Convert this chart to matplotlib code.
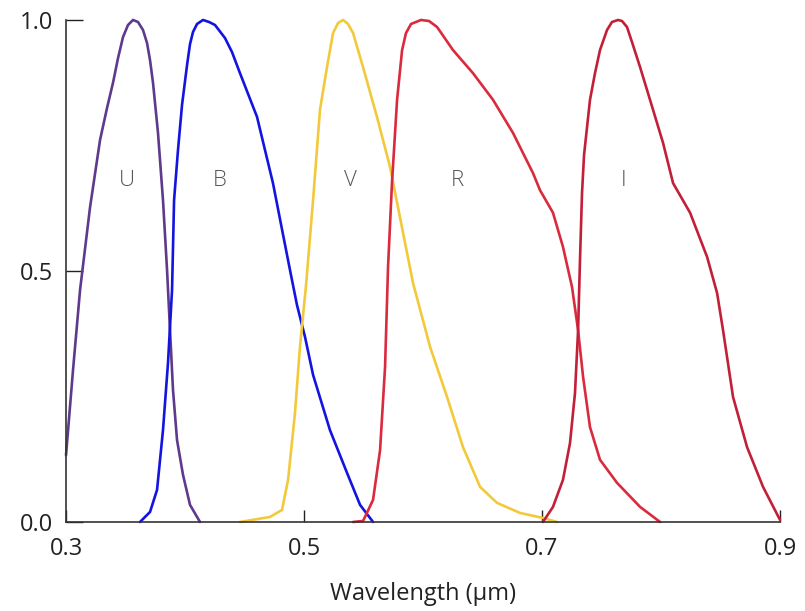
import matplotlib.pyplot as plt

# filter response curves (wavelength in micrometres, normalised response)
u_wl = [0.300, 0.3059, 0.3118, 0.3202, 0.3286, 0.3345, 0.3395, 0.3437, 0.3479, 0.3521,
        0.3563, 0.3605, 0.3647, 0.3681, 0.3706, 0.3731, 0.3773, 0.3815, 0.3849, 0.3874,
        0.3899, 0.3933, 0.3983, 0.4042, 0.4126]
u_resp = [0.133, 0.303, 0.462, 0.627, 0.761, 0.825, 0.875, 0.924, 0.966, 0.990,
          1.0, 0.996, 0.980, 0.954, 0.920, 0.875, 0.775, 0.641, 0.502, 0.382,
          0.263, 0.163, 0.094, 0.034, 0.0]

b_wl = [0.3622, 0.3706, 0.3765, 0.3815, 0.3857, 0.3891, 0.3908, 0.3941, 0.3975, 0.4017,
        0.4042, 0.4067, 0.4101, 0.4151, 0.4202, 0.4252, 0.4336, 0.4395, 0.4462, 0.4605,
        0.4739, 0.4824, 0.4882, 0.4941, 0.5008, 0.5076, 0.5218, 0.5361, 0.5471, 0.5580]
b_resp = [0.0, 0.020, 0.064, 0.183, 0.317, 0.462, 0.641, 0.741, 0.831, 0.910,
          0.952, 0.976, 0.992, 1.0, 0.996, 0.990, 0.964, 0.936, 0.894, 0.807,
          0.675, 0.572, 0.502, 0.432, 0.369, 0.293, 0.183, 0.098, 0.034, 0.0]

v_wl = [0.4462, 0.4714, 0.4815, 0.4866, 0.4924, 0.4966, 0.5017, 0.5076, 0.5134, 0.5193,
        0.5244, 0.5286, 0.5328, 0.5370, 0.5412, 0.5496, 0.5613, 0.5723, 0.5832, 0.5916,
        0.6059, 0.6202, 0.6336, 0.6479, 0.6622, 0.6815, 0.7008, 0.7126]
v_resp = [0.0, 0.010, 0.024, 0.084, 0.217, 0.349, 0.472, 0.641, 0.821, 0.906,
          0.974, 0.994, 1.0, 0.992, 0.974, 0.906, 0.807, 0.707, 0.576, 0.476,
          0.349, 0.249, 0.149, 0.070, 0.038, 0.018, 0.008, 0.0]

r_wl = [0.5412, 0.5496, 0.5580, 0.5639, 0.5681, 0.5706, 0.5739, 0.5782, 0.5824, 0.5857,
        0.5899, 0.5983, 0.6050, 0.6118, 0.6252, 0.6420, 0.6588, 0.6756, 0.6924, 0.6983,
        0.7092, 0.7176, 0.7252, 0.7303, 0.7345, 0.7403, 0.7487, 0.7630, 0.7824, 0.7992]
r_resp = [0.0, 0.002, 0.044, 0.143, 0.309, 0.508, 0.675, 0.841, 0.940, 0.974,
          0.992, 1.0, 0.998, 0.986, 0.940, 0.894, 0.841, 0.775, 0.695, 0.661,
          0.616, 0.548, 0.468, 0.382, 0.289, 0.189, 0.124, 0.078, 0.030, 0.0]

i_wl = [0.7008, 0.7092, 0.7176, 0.7235, 0.7277, 0.7303, 0.7319, 0.7336, 0.7353, 0.7403,
        0.7445, 0.7487, 0.7546, 0.7588, 0.7639, 0.7672, 0.7714, 0.7756, 0.7824, 0.7933,
        0.8017, 0.8101, 0.8244, 0.8387, 0.8471, 0.8521, 0.8605, 0.8723, 0.8857, 0.9]
i_resp = [0.0, 0.030, 0.084, 0.157, 0.257, 0.382, 0.522, 0.655, 0.731, 0.841,
          0.894, 0.940, 0.980, 0.996, 1.0, 0.998, 0.986, 0.956, 0.906, 0.821,
          0.755, 0.675, 0.616, 0.528, 0.456, 0.382, 0.249, 0.149, 0.070, 0.004]

bands = ['U', 'B', 'V', 'R', 'I']
label_x = [0.3513, 0.4294, 0.5387, 0.6286, 0.7689]
label_y = 0.68
colors = ['#5e3a8c', '#1414e0', '#f3c93c', '#d92a3e', '#c21f38']

x_ticks = [0.3, 0.5, 0.7, 0.9]
y_ticks = [0.0, 0.5, 1.0]

plt.rcParams['font.family'] = ['Open Sans', 'DejaVu Sans']

fig = plt.figure(figsize=(8.05, 6.11), dpi=100)
ax = fig.add_axes([0.082, 0.1457, 0.887, 0.8216])

curves = [(u_wl, u_resp), (b_wl, b_resp), (v_wl, v_resp), (r_wl, r_resp), (i_wl, i_resp)]
for (wl, resp), c in zip(curves, colors):
    ax.plot(wl, resp, color=c, lw=1.9, clip_on=False,
            solid_joinstyle='round', solid_capstyle='round')

for name, lx in zip(bands, label_x):
    ax.text(lx, label_y, name, ha='center', va='center', fontsize=16,
            color='#555555', fontweight='light')

ax.set_xlim(0.3, 0.9)
ax.set_ylim(0.0, 1.0)
ax.set_xticks(x_ticks)
ax.set_yticks(y_ticks)
ax.set_xticklabels(['%.1f' % t for t in x_ticks])
ax.set_yticklabels(['%.1f' % t for t in y_ticks])
ax.tick_params(axis='both', direction='in', labelsize=17, colors='#222222', width=1.0)
ax.tick_params(axis='y', length=12, pad=9)
ax.tick_params(axis='x', length=8.5, pad=11)

for side in ['top', 'right']:
    ax.spines[side].set_visible(False)
for side in ['left', 'bottom']:
    ax.spines[side].set_color('#333333')
    ax.spines[side].set_linewidth(1.2)

ax.set_xlabel('Wavelength (µm)', fontsize=17, color='#222222', labelpad=15)

fig.savefig('out.png', dpi=100)
